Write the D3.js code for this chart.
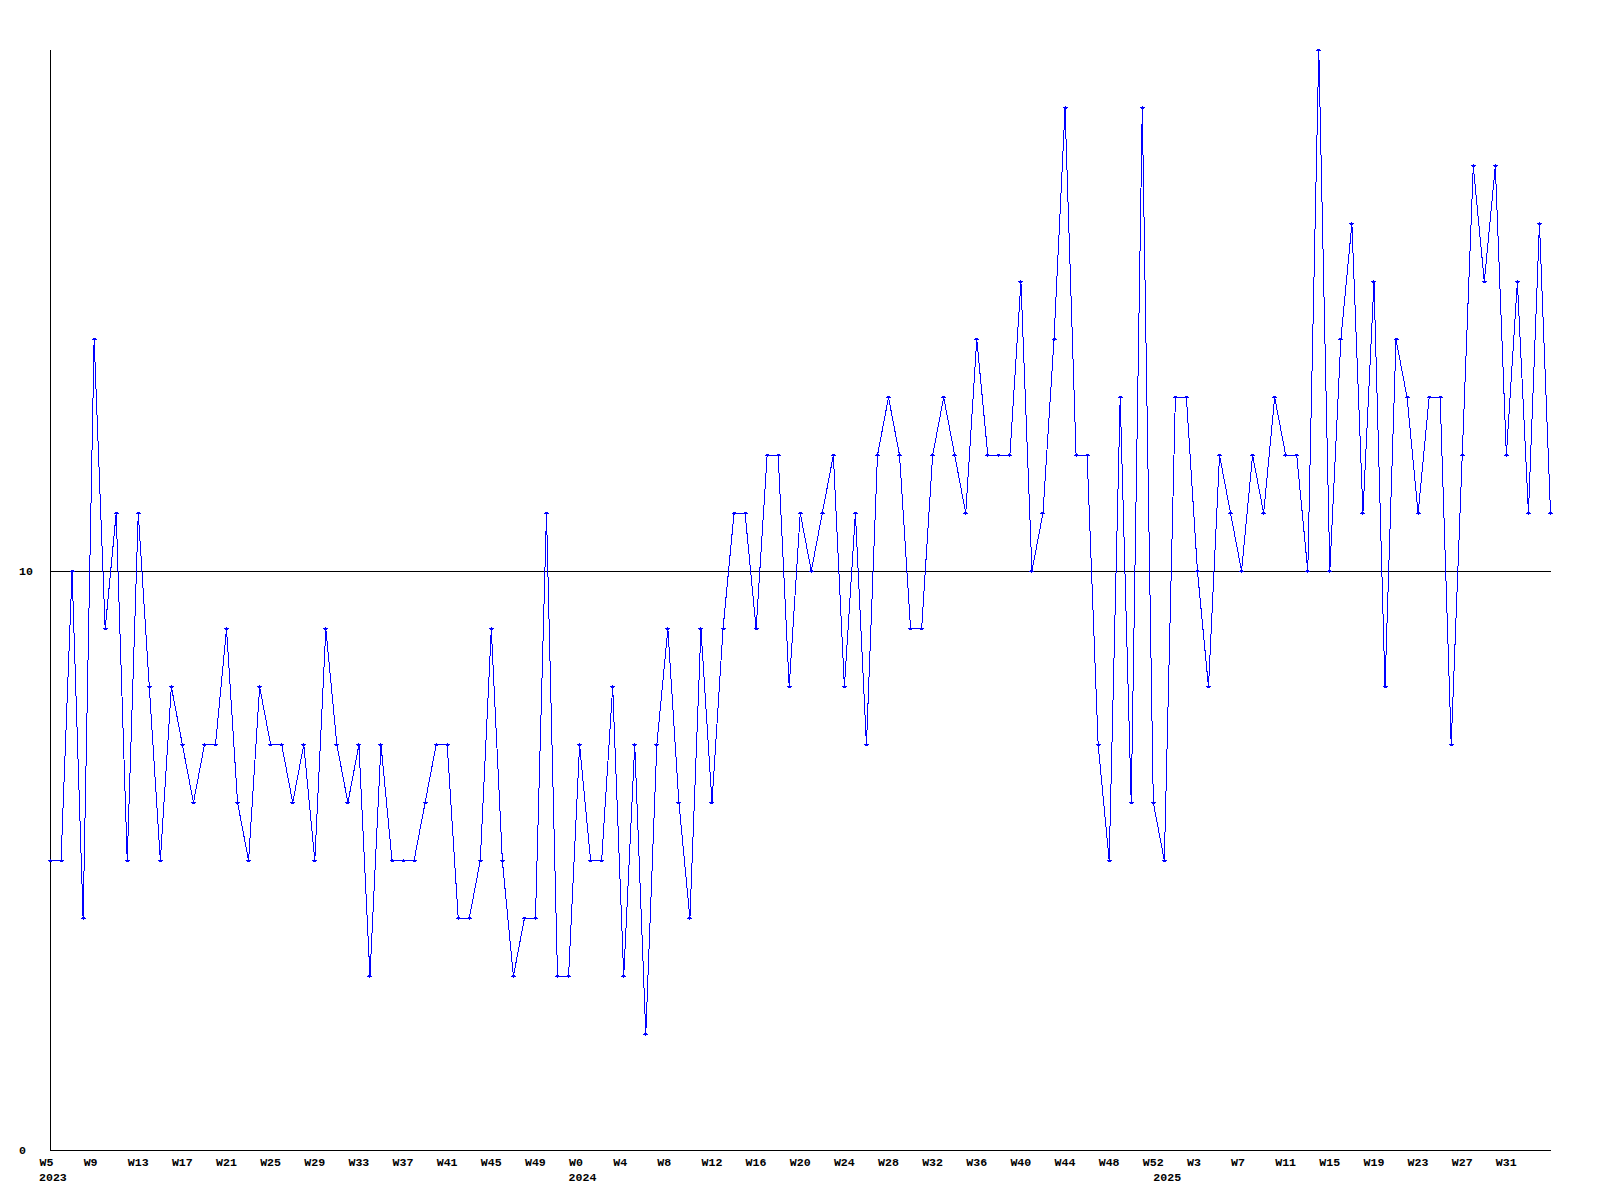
<!DOCTYPE html>
<html><head><meta charset="utf-8">
<script src="https://cdn.jsdelivr.net/npm/d3@7"></script>
<style>
body{margin:0;background:#fff}
text{font-family:"Liberation Mono","DejaVu Sans Mono",monospace;font-weight:bold;font-size:11.6px;fill:#000}
</style>
</head><body>
<svg id="chart" width="1600" height="1200"></svg>
<script>
// weekly values, 2023 W5 .. 2025 W32
const values = [
  5,5,10,4,14,9,11,5,11,8,5,8,7,6,7,7,9,6,
  5,8,7,7,6,7,5,9,7,6,7,3,7,5,5,5,6,
  7,7,4,4,5,9,5,3,4,4,11,3,3,7,5,5,8,
  3,7,2,7,9,6,4,9,6,9,11,11,9,12,12,8,11,
  10,11,12,8,11,7,12,13,12,9,9,12,13,12,11,14,12,12,
  12,15,10,11,14,18,12,12,7,5,13,6,18,6,5,13,13,
  10,8,12,11,10,12,11,13,12,12,10,19,10,14,16,11,15,
  8,14,13,11,13,13,7,12,17,15,17,12,15,11,16,11
];
const weekLabels = [
  "W5","W9","W13","W17","W21","W25","W29","W33","W37","W41","W45","W49",
  "W0","W4","W8","W12","W16","W20","W24","W28","W32","W36","W40","W44","W48","W52",
  "W3","W7","W11","W15","W19","W23","W27","W31"
];
const weekTickIndex = d3.range(0, 133, 4);
const yearLabels = ["2023","2024","2025"];
const yearIndex = [0,48,101];
const yTicks = [0,10];

const svg = d3.select("#chart");
const pL = 50, pR = 1550.5, pT = 50, pB = 1150;
const x = d3.scaleLinear().domain([0, values.length - 1]).range([pL, pR]);
const y = d3.scaleLinear().domain([0, 19]).range([pB, pT]);

// reference line at 10
svg.append("line")
  .attr("x1", pL).attr("x2", 1551)
  .attr("y1", y(10)).attr("y2", y(10))
  .attr("stroke", "#000").attr("stroke-width", 1)
  .attr("shape-rendering", "crispEdges");

// axes lines
svg.append("line").attr("x1", pL).attr("x2", pL).attr("y1", pT).attr("y2", pB)
  .attr("stroke", "#000").attr("shape-rendering", "crispEdges");
svg.append("line").attr("x1", pL).attr("x2", 1551).attr("y1", pB).attr("y2", pB)
  .attr("stroke", "#000").attr("shape-rendering", "crispEdges");

// bottom axis labels
const xAxis = d3.axisBottom(x).tickValues(weekTickIndex).tickSize(0)
  .tickFormat((d, i) => weekLabels[i]);
const gx = svg.append("g").attr("transform", `translate(0,${pB})`).call(xAxis);
gx.select(".domain").remove();
gx.selectAll("text").attr("text-anchor", "start").attr("x", -11).attr("y", 16).attr("dy", null)
  .attr("font-family", null).attr("font-size", null);

// year labels
svg.append("g").selectAll("text").data(yearLabels).join("text")
  .attr("x", (d, i) => x(yearIndex[i]) - 11)
  .attr("y", pB + 31)
  .text(d => d);

// left axis labels
const yAxis = d3.axisLeft(y).tickValues(yTicks).tickSize(0).tickFormat(d3.format("d"));
const gy = svg.append("g").attr("transform", `translate(${pL},0)`).call(yAxis);
gy.select(".domain").remove();
gy.selectAll("text").attr("text-anchor", "start").attr("x", 19 - pL).attr("dy", "0.33em")
  .attr("font-family", null).attr("font-size", null);

// series line
svg.append("path")
  .datum(values)
  .attr("fill", "none")
  .attr("stroke", "#0000ff")
  .attr("stroke-width", 1)
  .attr("shape-rendering", "crispEdges")
  .attr("d", d3.line().x((d, i) => x(i)).y(d => y(d)));

// markers
svg.append("g").selectAll("path").data(values).join("path")
  .attr("transform", (d, i) => `translate(${x(i)},${y(d)})`)
  .attr("d", "M-2.5,0H2.5M0,-1.5V1.5M-1.5,-0.5H1.5M-1.5,0.5H1.5")
  .attr("stroke", "#0000ff").attr("stroke-width", 1)
  .attr("shape-rendering", "crispEdges");
</script>
</body></html>
